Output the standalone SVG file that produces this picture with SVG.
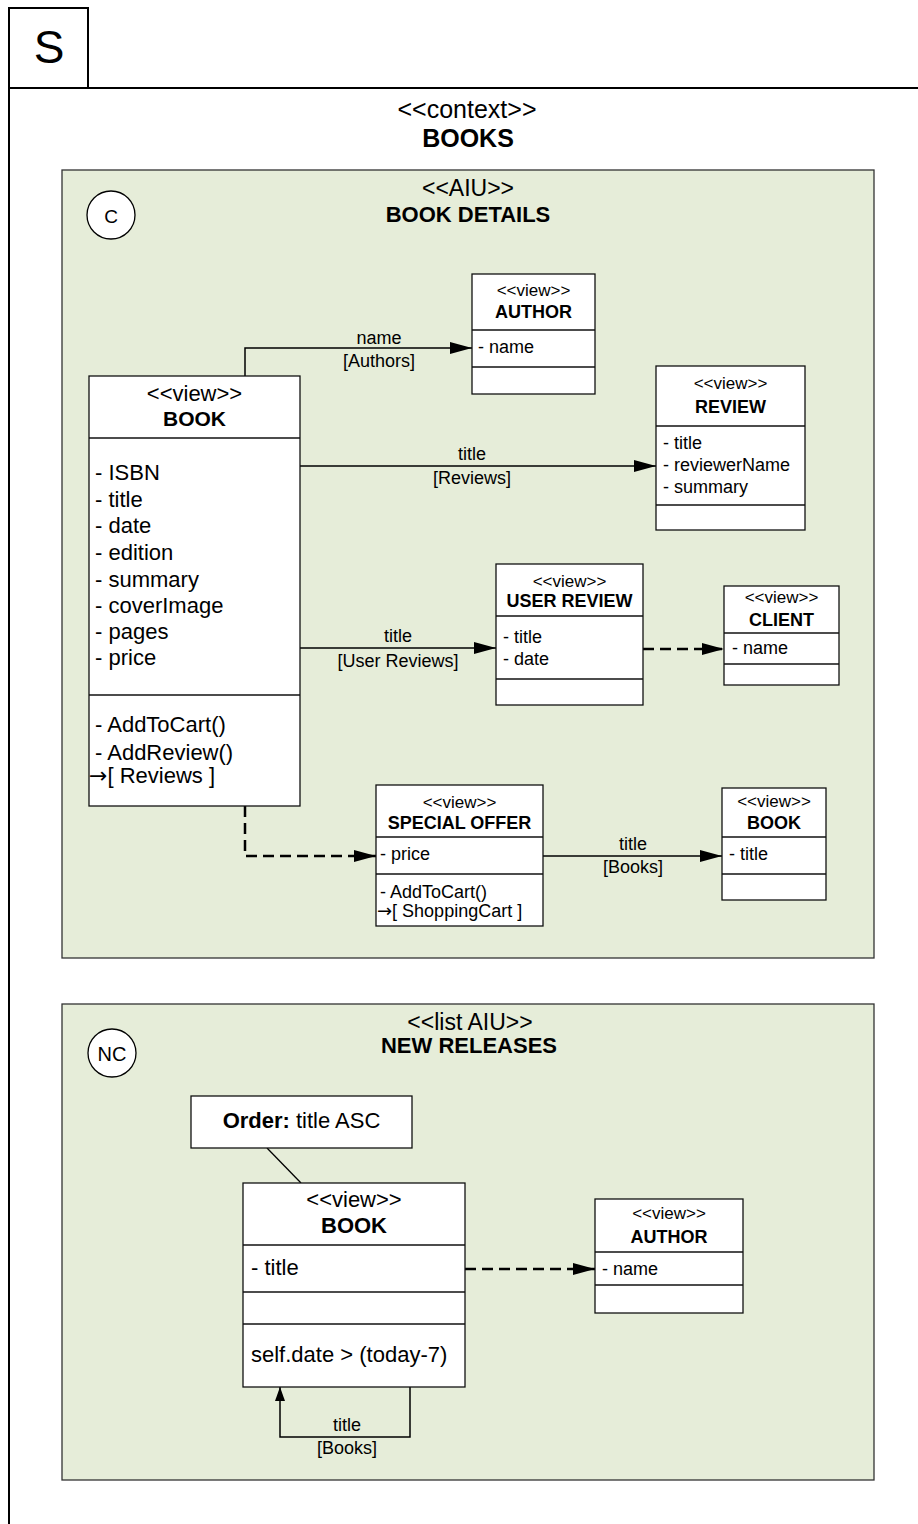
<svg xmlns="http://www.w3.org/2000/svg" width="918" height="1524" viewBox="0 0 918 1524">
<style>
text{font-family:"Liberation Sans",Arial,sans-serif;fill:#000}
.c{text-anchor:middle}
.b{font-weight:bold}
.ar{font-family:"DejaVu Sans","Liberation Sans",sans-serif}
.box{fill:#fff;stroke:#111;stroke-width:1.3}
.aiu{fill:#e6edd9;stroke:#333;stroke-width:1.3}
.dv{stroke:#111;stroke-width:1.3}
.ln{fill:none;stroke:#000;stroke-width:1.5}
.ds{fill:none;stroke:#000;stroke-width:2.5;stroke-dasharray:11,6}
.st{font-size:17px}.at{font-size:18px}.nm{font-size:18px;font-weight:bold}.lb{font-size:18px}
.L{font-size:22px}
</style>
<defs>
<marker id="ah" markerUnits="userSpaceOnUse" markerWidth="24" markerHeight="14" refX="22" refY="6" orient="auto">
<path d="M0,0 L22,6 L0,12 Z" fill="#000"/>
</marker>
<marker id="ahs" markerUnits="userSpaceOnUse" markerWidth="16" markerHeight="12" refX="14" refY="5" orient="auto">
<path d="M0,0 L14,5 L0,10 Z" fill="#000"/>
</marker>
</defs>
<rect width="918" height="1524" fill="#fff"/>

<g id="frame">
<path d="M9,1524 V8 H88 V88" fill="none" stroke="#000" stroke-width="2"/>
<line x1="9" y1="88" x2="918" y2="88" stroke="#000" stroke-width="2"/>
<text x="49" y="63" class="c" style="font-size:46px">S</text>
<text x="467" y="118" class="c" style="font-size:25px">&lt;&lt;context&gt;&gt;</text>
<text x="468" y="147" class="c b" style="font-size:25px">BOOKS</text>
</g>

<g id="aiu-book-details">
<rect x="62" y="170" width="812" height="788" class="aiu"/>
<circle cx="111" cy="215" r="24" fill="#fff" stroke="#000" stroke-width="1.3"/>
<text x="111" y="222.5" class="c" style="font-size:19px">C</text>
<text x="468" y="196" class="c" style="font-size:23px">&lt;&lt;AIU&gt;&gt;</text>
<text x="468" y="222" class="c b L">BOOK DETAILS</text>
</g>

<g id="aiu-new-releases">
<rect x="62" y="1004" width="812" height="476" class="aiu"/>
<circle cx="112" cy="1053" r="24" fill="#fff" stroke="#000" stroke-width="1.3"/>
<text x="112" y="1060.5" class="c" style="font-size:20px">NC</text>
<text x="470" y="1030" class="c" style="font-size:23px">&lt;&lt;list AIU&gt;&gt;</text>
<text x="469" y="1053" class="c b L">NEW RELEASES</text>
</g>

<g id="connectors">
<path d="M245,376 V348 H472" class="ln" marker-end="url(#ah)"/>
<text x="379" y="344" class="c lb">name</text>
<text x="379" y="367" class="c lb">[Authors]</text>
<path d="M300,466 H656" class="ln" marker-end="url(#ah)"/>
<text x="472" y="460" class="c lb">title</text>
<text x="472" y="484" class="c lb">[Reviews]</text>
<path d="M300,648 H496" class="ln" marker-end="url(#ah)"/>
<text x="398" y="642" class="c lb">title</text>
<text x="398" y="667" class="c lb">[User Reviews]</text>
<path d="M643,649 H724" class="ds" marker-end="url(#ah)"/>
<path d="M245,806 V856 H376" class="ds" marker-end="url(#ah)"/>
<path d="M543,856 H722" class="ln" marker-end="url(#ah)"/>
<text x="633" y="850" class="c lb">title</text>
<text x="633" y="873" class="c lb">[Books]</text>
<line x1="267" y1="1148" x2="301" y2="1183" stroke="#000" stroke-width="1.3"/>
<path d="M465,1269 H595" class="ds" marker-end="url(#ah)"/>
<path d="M410,1387 V1437 H280 V1387" class="ln" marker-end="url(#ahs)"/>
<text x="347" y="1431" class="c lb">title</text>
<text x="347" y="1454" class="c lb">[Books]</text>
</g>

<g id="book">
<rect x="89" y="376" width="211" height="430" class="box"/>
<line x1="89" y1="438" x2="300" y2="438" class="dv"/>
<line x1="89" y1="695" x2="300" y2="695" class="dv"/>
<text x="194.5" y="401" class="c L">&lt;&lt;view&gt;&gt;</text>
<text x="194.5" y="426" class="c b" style="font-size:21px">BOOK</text>
<text x="95" y="480" class="L">- ISBN</text>
<text x="95" y="507" class="L">- title</text>
<text x="95" y="533" class="L">- date</text>
<text x="95" y="560" class="L">- edition</text>
<text x="95" y="586.5" class="L">- summary</text>
<text x="95" y="613" class="L">- coverImage</text>
<text x="95" y="639" class="L">- pages</text>
<text x="95" y="665" class="L">- price</text>
<text x="95" y="731.5" class="L">- AddToCart()</text>
<text x="95" y="760" class="L">- AddReview()</text>
<text x="89" y="783" class="L"><tspan class="ar">→</tspan>[ Reviews ]</text>
</g>

<g id="author">
<rect x="472" y="274" width="123" height="120" class="box"/>
<line x1="472" y1="330" x2="595" y2="330" class="dv"/>
<line x1="472" y1="367" x2="595" y2="367" class="dv"/>
<text x="533.5" y="296" class="c st">&lt;&lt;view&gt;&gt;</text>
<text x="533.5" y="318" class="c nm">AUTHOR</text>
<text x="478" y="353" class="at">- name</text>
</g>

<g id="review">
<rect x="656" y="366" width="149" height="164" class="box"/>
<line x1="656" y1="426" x2="805" y2="426" class="dv"/>
<line x1="656" y1="505" x2="805" y2="505" class="dv"/>
<text x="730.5" y="389" class="c st">&lt;&lt;view&gt;&gt;</text>
<text x="730.5" y="413" class="c nm">REVIEW</text>
<text x="663" y="449" class="at">- title</text>
<text x="663" y="471" class="at">- reviewerName</text>
<text x="663" y="493" class="at">- summary</text>
</g>

<g id="user-review">
<rect x="496" y="564" width="147" height="141" class="box"/>
<line x1="496" y1="616" x2="643" y2="616" class="dv"/>
<line x1="496" y1="679" x2="643" y2="679" class="dv"/>
<text x="569.5" y="586.5" class="c st">&lt;&lt;view&gt;&gt;</text>
<text x="569.5" y="607" class="c nm">USER REVIEW</text>
<text x="503" y="643" class="at">- title</text>
<text x="503" y="665" class="at">- date</text>
</g>

<g id="client">
<rect x="724" y="586" width="115" height="99" class="box"/>
<line x1="724" y1="633" x2="839" y2="633" class="dv"/>
<line x1="724" y1="664" x2="839" y2="664" class="dv"/>
<text x="781.5" y="603" class="c st">&lt;&lt;view&gt;&gt;</text>
<text x="781.5" y="626" class="c nm">CLIENT</text>
<text x="732" y="654" class="at">- name</text>
</g>

<g id="special-offer">
<rect x="376" y="785" width="167" height="141" class="box"/>
<line x1="376" y1="837" x2="543" y2="837" class="dv"/>
<line x1="376" y1="874" x2="543" y2="874" class="dv"/>
<text x="459.5" y="808" class="c st">&lt;&lt;view&gt;&gt;</text>
<text x="459.5" y="829" class="c nm">SPECIAL OFFER</text>
<text x="380" y="860" class="at">- price</text>
<text x="380" y="898" class="at">-  AddToCart()</text>
<text x="377" y="917" class="at"><tspan class="ar">→</tspan>[ ShoppingCart ]</text>
</g>

<g id="book-small">
<rect x="722" y="788" width="104" height="112" class="box"/>
<line x1="722" y1="837" x2="826" y2="837" class="dv"/>
<line x1="722" y1="874" x2="826" y2="874" class="dv"/>
<text x="774" y="806.5" class="c st">&lt;&lt;view&gt;&gt;</text>
<text x="774" y="829" class="c nm">BOOK</text>
<text x="729" y="860" class="at">- title</text>
</g>

<g id="order-note">
<rect x="191" y="1096" width="221" height="52" class="box"/>
<text x="301.5" y="1128" class="c L"><tspan class="b">Order:</tspan> title ASC</text>
</g>

<g id="book-nr">
<rect x="243" y="1183" width="222" height="204" class="box"/>
<line x1="243" y1="1245" x2="465" y2="1245" class="dv"/>
<line x1="243" y1="1292" x2="465" y2="1292" class="dv"/>
<line x1="243" y1="1324" x2="465" y2="1324" class="dv"/>
<text x="354" y="1207" class="c L">&lt;&lt;view&gt;&gt;</text>
<text x="354" y="1233" class="c b L">BOOK</text>
<text x="251" y="1275" class="L">- title</text>
<text x="251" y="1362" class="L">self.date &gt; (today-7)</text>
</g>

<g id="author-nr">
<rect x="595" y="1199" width="148" height="114" class="box"/>
<line x1="595" y1="1252" x2="743" y2="1252" class="dv"/>
<line x1="595" y1="1285" x2="743" y2="1285" class="dv"/>
<text x="669" y="1219" class="c st">&lt;&lt;view&gt;&gt;</text>
<text x="669" y="1243" class="c nm">AUTHOR</text>
<text x="602" y="1275" class="at">- name</text>
</g>
</svg>
